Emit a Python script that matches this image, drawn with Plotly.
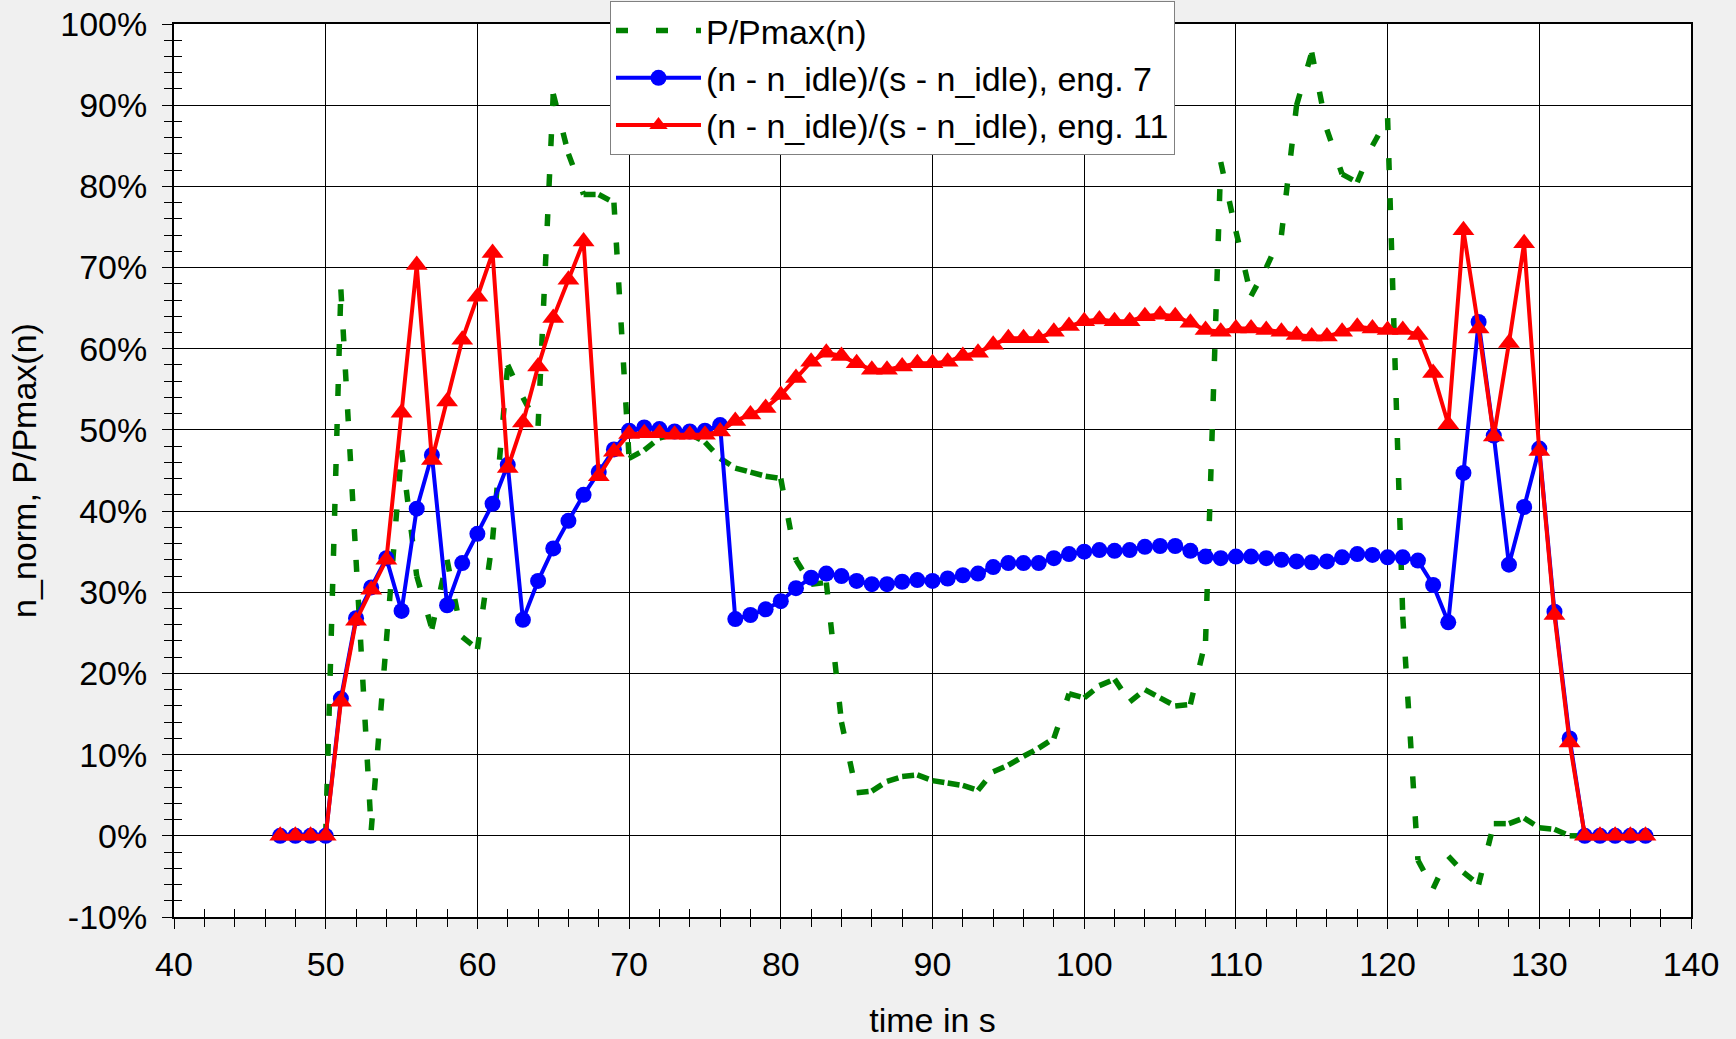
import plotly.graph_objects as go

# ---------------- data ----------------
time_s = [47, 48, 49, 50, 51, 52, 53, 54, 55, 56, 57, 58, 59, 60, 61, 62, 63, 64, 65, 66,
          67, 68, 69, 70, 71, 72, 73, 74, 75, 76, 77, 78, 79, 80, 81, 82, 83, 84, 85, 86,
          87, 88, 89, 90, 91, 92, 93, 94, 95, 96, 97, 98, 99, 100, 101, 102, 103, 104, 105, 106,
          107, 108, 109, 110, 111, 112, 113, 114, 115, 116, 117, 118, 119, 120, 121, 122, 123, 124, 125, 126,
          127, 128, 129, 130, 131, 132, 133, 134, 135, 136, 137]

p_pmax = [0, 0, 0, 0,
          67.3, 34.0, 0.7, 24.0, 47.5, 32.0, 25.5, 34.0, 24.5, 23.0,
          36.5, 58.0, 54.0, 50.5, 91.4, 84.0, 79.0, 79.0, 78.0, 46.5,
          47.5, 49.0, 49.5, 49.5, 48.5, 46.5, 45.3, 44.8, 44.3, 44.0,
          34.0, 31.0, 31.2, 14.0, 5.3, 5.5, 6.7, 7.3, 7.5, 6.8,
          6.5, 6.2, 5.6, 7.9, 8.7, 9.8, 10.8, 12.0, 17.5, 17.0,
          18.5, 19.3, 16.5, 18.0, 17.0, 16.0, 16.2, 24.0, 83.0, 74.5,
          66.5, 70.0, 74.0, 90.0, 96.5, 87.0, 81.5, 80.5, 85.0, 88.4,
          27.0, -3.0, -6.5, -2.5, -4.5, -6.0, 1.5, 1.5, 2.2, 1.0,
          0.8, 0, 0, 0, 0, 0, 0]

eng7 = [0, 0, 0, 0,
        16.9, 26.8, 30.6, 34.2, 27.7, 40.3, 46.9, 28.4, 33.6, 37.2,
        40.9, 45.7, 26.6, 31.4, 35.4, 38.8, 42.0, 44.8, 47.6, 49.9,
        50.3, 50.1, 49.8, 49.8, 49.9, 50.6, 26.7, 27.2, 27.9, 28.9,
        30.5, 31.8, 32.3, 32.0, 31.4, 31.0, 31.0, 31.3, 31.5, 31.4,
        31.7, 32.1, 32.3, 33.1, 33.6, 33.6, 33.6, 34.2, 34.7, 35.0,
        35.2, 35.1, 35.2, 35.6, 35.7, 35.7, 35.1, 34.4, 34.2, 34.4,
        34.4, 34.2, 34.0, 33.8, 33.7, 33.8, 34.3, 34.7, 34.6, 34.3,
        34.3, 33.9, 30.9, 26.3, 44.7, 63.3, 49.3, 33.4, 40.5, 47.7,
        27.6, 12.0, 0, 0, 0, 0, 0]

eng11 = [0, 0, 0, 0,
         16.5, 26.5, 30.3, 34.0, 52.1, 70.3, 46.3, 53.5, 61.1, 66.4,
         71.8, 45.3, 50.9, 57.8, 63.8, 68.5, 73.2, 44.3, 47.3, 49.5,
         49.6, 49.6, 49.4, 49.4, 49.4, 49.8, 51.1, 51.9, 52.7, 54.3,
         56.4, 58.4, 59.5, 59.1, 58.2, 57.4, 57.4, 57.8, 58.2, 58.2,
         58.4, 59.1, 59.5, 60.5, 61.3, 61.3, 61.3, 62.1, 62.8, 63.4,
         63.6, 63.4, 63.4, 64.0, 64.2, 64.0, 63.2, 62.3, 62.1, 62.5,
         62.5, 62.3, 62.1, 61.7, 61.5, 61.5, 62.1, 62.7, 62.5, 62.3,
         62.3, 61.7, 57.0, 50.7, 74.6, 62.5, 49.2, 60.7, 73.0, 47.4,
         27.2, 11.5, 0, 0, 0, 0, 0]

x_ticks = [40, 50, 60, 70, 80, 90, 100, 110, 120, 130, 140]
y_ticks = [-10, 0, 10, 20, 30, 40, 50, 60, 70, 80, 90, 100]
y_tick_text = ["-10%", "0%", "10%", "20%", "30%", "40%", "50%", "60%", "70%", "80%", "90%", "100%"]

names = ["P/Pmax(n)",
         "(n - n_idle)/(s - n_idle), eng. 7",
         "(n - n_idle)/(s - n_idle), eng. 11"]

# ---------------- figure ----------------
FONT = "Liberation Sans, Arial, sans-serif"
FS = 34

# green dashed line: the dash pattern restarts on every 1 s segment (as in the original)
gx, gy = [], []
for i in range(len(time_s) - 1):
    gx += [time_s[i], time_s[i + 1], None]
    gy += [p_pmax[i], p_pmax[i + 1], None]

fig = go.Figure()
fig.add_trace(go.Scatter(x=gx, y=gy, mode="lines", name=names[0],
                         line=dict(color="#008000", width=5.5, dash="12px,28px"),
                         connectgaps=False))
fig.add_trace(go.Scatter(x=time_s, y=eng7, mode="lines+markers", name=names[1],
                         line=dict(color="#0000ff", width=4),
                         marker=dict(symbol="circle", size=16, color="#0000ff", line=dict(width=0))))
fig.add_trace(go.Scatter(x=time_s, y=eng11, mode="lines+markers", name=names[2],
                         line=dict(color="#ff0000", width=4),
                         marker=dict(symbol="triangle-up", size=19, color="#ff0000", line=dict(width=0))))
# carrier for the overlay axes (inside half of the crossing ticks)
fig.add_trace(go.Scatter(x=[], y=[], xaxis="x2", yaxis="y2", showlegend=False, hoverinfo="skip"))

tickcommon = dict(tickcolor="black", tickwidth=1)

fig.update_layout(
    width=1736, height=1039,
    margin=dict(l=174, r=45, t=24, b=122, autoexpand=False),
    paper_bgcolor="#f0f0f0",
    plot_bgcolor="white",
    font=dict(family=FONT, size=FS, color="black"),
    showlegend=True,
    legend=dict(x=(610 - 174) / 1517, y=1 + (24 - 1) / 893, xanchor="left", yanchor="top",
                bgcolor="white", bordercolor="#808080", borderwidth=1,
                font=dict(family=FONT, size=FS, color="black"),
                itemwidth=85, tracegroupgap=0),
    xaxis=dict(range=[40, 140], tickvals=x_ticks, showgrid=True, gridcolor="black", gridwidth=1,
               showline=True, linecolor="black", linewidth=2, mirror=True,
               ticks="outside", ticklen=10, **tickcommon,
               minor=dict(dtick=2, tick0=40, ticks="outside", ticklen=8, tickcolor="black", showgrid=False),
               tickfont=dict(family=FONT, size=FS, color="black"), ticklabelstandoff=6,
               title=dict(text="time in s", font=dict(family=FONT, size=FS, color="black"), standoff=30),
               zeroline=False, automargin=False),
    yaxis=dict(range=[-10, 100], tickvals=y_ticks, ticktext=y_tick_text, showgrid=True,
               gridcolor="black", gridwidth=1,
               showline=True, linecolor="black", linewidth=2, mirror=True,
               ticks="outside", ticklen=10, **tickcommon,
               minor=dict(dtick=2, tick0=0, ticks="outside", ticklen=8, tickcolor="black", showgrid=False),
               tickfont=dict(family=FONT, size=FS, color="black"), ticklabelstandoff=8,
               title=dict(text="n_norm, P/Pmax(n)", font=dict(family=FONT, size=FS, color="black"), standoff=13),
               zeroline=False, automargin=False),
    xaxis2=dict(range=[40, 140], overlaying="x", anchor="y2", side="bottom", tickvals=x_ticks,
                showgrid=False, showline=False, zeroline=False, showticklabels=False,
                ticks="inside", ticklen=10, **tickcommon,
                minor=dict(dtick=2, tick0=40, ticks="inside", ticklen=8, tickcolor="black", showgrid=False)),
    yaxis2=dict(range=[-10, 100], overlaying="y", anchor="x2", side="left", tickvals=y_ticks,
                showgrid=False, showline=False, zeroline=False, showticklabels=False,
                ticks="inside", ticklen=10, **tickcommon,
                minor=dict(dtick=2, tick0=0, ticks="inside", ticklen=8, tickcolor="black", showgrid=False)),
)

fig.write_html("out.html",
               config={"displayModeBar": False},
               post_script="document.body.style.margin='0';document.body.style.background='#f0f0f0';")
